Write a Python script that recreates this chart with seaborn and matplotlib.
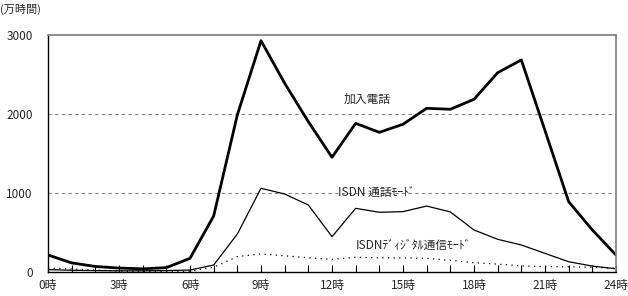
"""Hourly call volume by service type (加入電話 / ISDN)."""

import matplotlib

matplotlib.use("Agg")
import matplotlib.pyplot as plt
import pandas as pd
import seaborn as sns

hours = list(range(25))
kanyu_denwa = [215, 115, 70, 50, 40, 55, 173, 709, 1988, 2928, 2389, 1903, 1452,
               1882, 1768, 1870, 2072, 2060, 2186, 2523, 2684, 1790, 890, 532, 215]
isdn_tsuwa = [30, 22, 18, 15, 15, 18, 25, 88, 480, 1060, 987, 848, 447,
              806, 756, 764, 835, 760, 532, 414, 342, 236, 130, 75, 40]
isdn_digital = [50, 38, 25, 12, 8, 8, 10, 60, 195, 230, 205, 180, 160,
                186, 180, 178, 173, 148, 118, 100, 78, 68, 66, 60, 46]

series_names = ["加入電話", "ISDN 通話ﾓｰﾄﾞ", "ISDNﾃﾞｨｼﾞﾀﾙ通信ﾓｰﾄﾞ"]
tick_hours = list(range(0, 25, 3))
tick_labels = [f"{h}時" for h in tick_hours]

frame = pd.DataFrame({
    "hour": hours * 3,
    "value": kanyu_denwa + isdn_tsuwa + isdn_digital,
    "series": [series_names[0]] * 25 + [series_names[1]] * 25 + [series_names[2]] * 25,
})

sns.set_theme(style="white")
plt.rcParams["font.family"] = ["Noto Sans CJK JP", "DejaVu Sans"]

fig = plt.figure(figsize=(6.28, 2.96), dpi=100)
ax = fig.add_axes([48 / 628, 1 - 272 / 296, 568 / 628, 237 / 296])

sns.lineplot(
    data=frame, x="hour", y="value", hue="series", style="series",
    size="series", sizes={series_names[0]: 2.0, series_names[1]: 0.9, series_names[2]: 0.9},
    palette={n: "black" for n in series_names},
    dashes={series_names[0]: "", series_names[1]: "", series_names[2]: (1, 3.5)},
    legend=False, ax=ax,
)

ax.set_xlim(0, 24)
ax.set_ylim(0, 3000)
ax.set_xticks(tick_hours)
ax.set_xticklabels(tick_labels, fontsize=8.5)
ax.set_xticks(hours, minor=True)
ax.set_yticks([0, 1000, 2000, 3000])
ax.set_yticklabels(["0", "1000", "2000", "3000"], fontsize=8.5)
ax.tick_params(axis="x", which="both", direction="in", length=5, width=0.8,
               color="black", bottom=True, pad=5)
ax.tick_params(axis="y", length=0, pad=11)
ax.set_xlabel("")
ax.set_ylabel("")

for y in (1000, 2000):
    ax.axhline(y, color="#808080", lw=0.8, ls=(0, (3, 3)), zorder=0)

ax.spines["left"].set_color("black")
ax.spines["bottom"].set_color("black")
ax.spines["left"].set_linewidth(1.0)
ax.spines["bottom"].set_linewidth(1.0)
ax.spines["top"].set_color("#808080")
ax.spines["right"].set_color("#808080")

ax.text(13.5, 2180, series_names[0], fontsize=8.5, ha="center", va="center")
ax.text(12.25, 1010, series_names[1], fontsize=8.5, ha="left", va="center")
ax.text(13.0, 340, series_names[2], fontsize=8.5, ha="left", va="center")

fig.text(0 / 628, 1 - 9 / 296, "(万時間)", fontsize=8, ha="left", va="center")

fig.savefig("out.png", dpi=100)
plt.close(fig)
